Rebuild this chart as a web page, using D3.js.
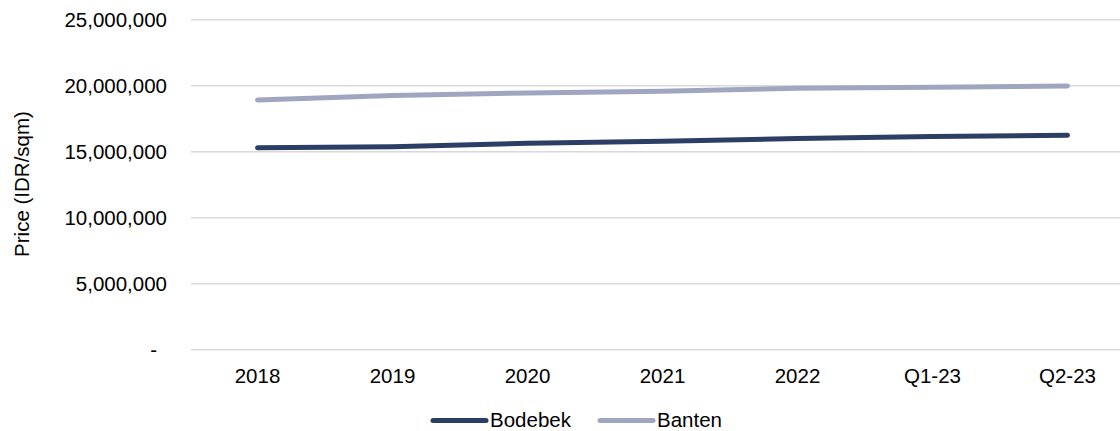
<!DOCTYPE html>
<html>
<head>
<meta charset="utf-8">
<script src="https://cdn.jsdelivr.net/npm/d3@7"></script>
<style>
  html, body { margin: 0; padding: 0; background: #fff; }
  svg text { font-family: "Liberation Sans", Arial, sans-serif; fill: #000; }
</style>
</head>
<body>
<svg id="chart" width="1120" height="431"></svg>
<script>
// Average land price per square metre, by period
const periods = ["2018", "2019", "2020", "2021", "2022", "Q1-23", "Q2-23"];
const bodebek = [15300000, 15380000, 15640000, 15790000, 16000000, 16150000, 16250000];
const banten  = [18920000, 19250000, 19450000, 19580000, 19800000, 19880000, 19980000];
const yTicks  = [0, 5000000, 10000000, 15000000, 20000000, 25000000];
const seriesNames = ["Bodebek", "Banten"];
const seriesColors = ["#2c3e65", "#a0a6c0"];

const svg = d3.select("#chart");
const fontSize = 20.5;

const x = d3.scalePoint().domain(periods).range([190, 1135]).padding(0.5);
const y = d3.scaleLinear().domain([0, 25000000]).range([349.7, 19.7]);

// horizontal gridlines
svg.append("g")
  .selectAll("line")
  .data(yTicks)
  .join("line")
  .attr("x1", 191).attr("x2", 1135)
  .attr("y1", d => y(d)).attr("y2", d => y(d))
  .attr("stroke", "#d9d9d9")
  .attr("stroke-width", 1.5);

// y axis labels (accounting style: zero shown as a dash)
const fmt = d3.format(",");
svg.append("g")
  .selectAll("text")
  .data(yTicks)
  .join("text")
  .attr("x", d => d === 0 ? 157 : 167)
  .attr("y", d => y(d))
  .attr("dy", "0.36em")
  .attr("text-anchor", "end")
  .attr("font-size", fontSize)
  .text(d => d === 0 ? "-" : fmt(d));

// y axis title
svg.append("text")
  .attr("transform", "translate(29,184) rotate(-90)")
  .attr("text-anchor", "middle")
  .attr("font-size", fontSize)
  .text("Price (IDR/sqm)");

// x axis labels
svg.append("g")
  .selectAll("text")
  .data(periods)
  .join("text")
  .attr("x", d => x(d))
  .attr("y", 383)
  .attr("text-anchor", "middle")
  .attr("font-size", fontSize)
  .text(d => d);

// series lines
const line = d3.line()
  .x((d, i) => x(periods[i]))
  .y(d => y(d));

[bodebek, banten].forEach((vals, i) => {
  svg.append("path")
    .datum(vals)
    .attr("d", line)
    .attr("fill", "none")
    .attr("stroke", seriesColors[i])
    .attr("stroke-width", 5)
    .attr("stroke-linecap", "round")
    .attr("stroke-linejoin", "round");
});

// legend
const legendItems = [
  { name: seriesNames[0], color: seriesColors[0], x0: 433 },
  { name: seriesNames[1], color: seriesColors[1], x0: 600 }
];
const lg = svg.append("g");
legendItems.forEach(it => {
  lg.append("line")
    .attr("x1", it.x0).attr("x2", it.x0 + 53)
    .attr("y1", 420.5).attr("y2", 420.5)
    .attr("stroke", it.color)
    .attr("stroke-width", 5)
    .attr("stroke-linecap", "round");
  lg.append("text")
    .attr("x", it.x0 + 57)
    .attr("y", 426.5)
    .attr("font-size", fontSize)
    .text(it.name);
});
</script>
</body>
</html>
